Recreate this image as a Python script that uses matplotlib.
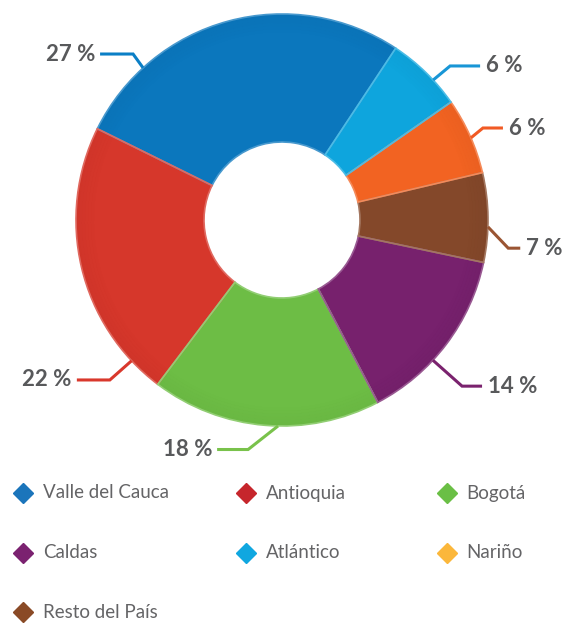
import matplotlib.pyplot as plt
import matplotlib.colors as mcolors
import numpy as np

# data (legend order)
categories = ["Valle del Cauca", "Antioquia", "Bogotá", "Caldas",
              "Atlántico", "Nariño", "Resto del País"]
shares = [27, 22, 18, 14, 6, 6, 7]
pie_order = [0, 1, 2, 3, 6, 5, 4]   # counter-clockwise from the start angle

wedge_colors = ["#0b77bd", "#d6372b", "#6dbd45", "#77216d",
                "#0ea5dd", "#f26322", "#84482a"]
marker_colors = ["#1b75bb", "#c6262c", "#6abf45", "#7b2270",
                 "#10a7e0", "#fbb73b", "#8a4a26"]
line_colors = ["#0b7fc6", "#d9382c", "#79c24b", "#7a226e",
               "#1896d6", "#f15a24", "#9a5533"]

# leader layout: anchor angle, elbow angle, elbow radius, horizontal run
leader_anchor = {0: 132.4, 4: 42.8, 5: 23.5, 6: -1.9, 3: -42.9, 2: -91.1, 1: -136.9}
leader_elbow = {0: (131.9, 223), 4: (42.5, 228), 5: (24.6, 221), 6: (-7.1, 228),
                3: (-42.7, 245), 2: (-98.4, 232), 1: (-137.1, 235)}
leader_run = {0: -33, 4: 30, 5: 20, 6: 12, 3: 20, 2: -31, 1: -33}

W, H = 586, 638
cx, cy = 282, H - 220
R, r_in = 206, 78


def lighten(c, f):
    rgb = np.array(mcolors.to_rgb(c))
    return tuple(rgb + (1 - rgb) * f)


def darken(c, f):
    return tuple(np.array(mcolors.to_rgb(c)) * (1 - f))


fig = plt.figure(figsize=(W / 100, H / 100), dpi=100)
ax = fig.add_axes([0, 0, 1, 1])

vals = [shares[i] for i in pie_order]
cols = [wedge_colors[i] for i in pie_order]
wedges, _ = ax.pie(vals, colors=cols, startangle=56.5, counterclock=True,
                   center=(cx, cy), radius=R,
                   wedgeprops=dict(width=R - r_in, linewidth=0))

# faint shading toward the outer rim
for k in range(6):
    rr = R - k * 3
    ax.pie(vals, colors=[darken(c, 0.05) for c in cols], startangle=56.5,
           counterclock=True, center=(cx, cy), radius=rr,
           wedgeprops=dict(width=3, linewidth=0, alpha=0.5 - k * 0.08))

# lighter outline around each wedge
ax.pie(vals, colors=["none"] * len(vals), startangle=56.5, counterclock=True,
       center=(cx, cy), radius=R,
       wedgeprops=dict(width=R - r_in, linewidth=1.2, fill=False))
outl = ax.patches[-len(vals):]
for w, c in zip(outl, cols):
    w.set_edgecolor(lighten(c, 0.25))

for i in range(len(categories)):
    a = np.deg2rad(leader_anchor[i])
    ea, er = leader_elbow[i]
    ea = np.deg2rad(ea)
    x0, y0 = cx + R * np.cos(a), cy + R * np.sin(a)
    x1, y1 = cx + er * np.cos(ea), cy + er * np.sin(ea)
    x2 = x1 + leader_run[i]
    ax.plot([x0, x1, x2], [y0, y1, y1], color=line_colors[i], lw=2.2,
            solid_joinstyle="miter", solid_capstyle="butt")
    if leader_run[i] < 0:
        ax.text(x2 - 5, y1, f"{shares[i]} %", ha="right", va="center",
                fontsize=16, fontweight="bold", color="#58595b", family="Lato")
    else:
        ax.text(x2 + 6, y1, f"{shares[i]} %", ha="left", va="center",
                fontsize=16, fontweight="bold", color="#58595b", family="Lato")

# legend, 3 columns
col_marker_x = [23, 246, 447]
col_text_x = [43, 266, 466]
row_y = [H - 493, H - 553, H - 612]
for k, name in enumerate(categories):
    row, col = divmod(k, 3)
    ax.plot(col_marker_x[col], row_y[row], marker="D", ms=10.5,
            color=marker_colors[k], mec=marker_colors[k], ls="none")
    ax.text(col_text_x[col], row_y[row], name, ha="left", va="center",
            fontsize=13.5, color="#646466", family="Lato")

ax.set_xlim(0, W)
ax.set_ylim(0, H)
ax.set_aspect("equal")
ax.axis("off")

fig.savefig("out.png", dpi=100, facecolor="white")
